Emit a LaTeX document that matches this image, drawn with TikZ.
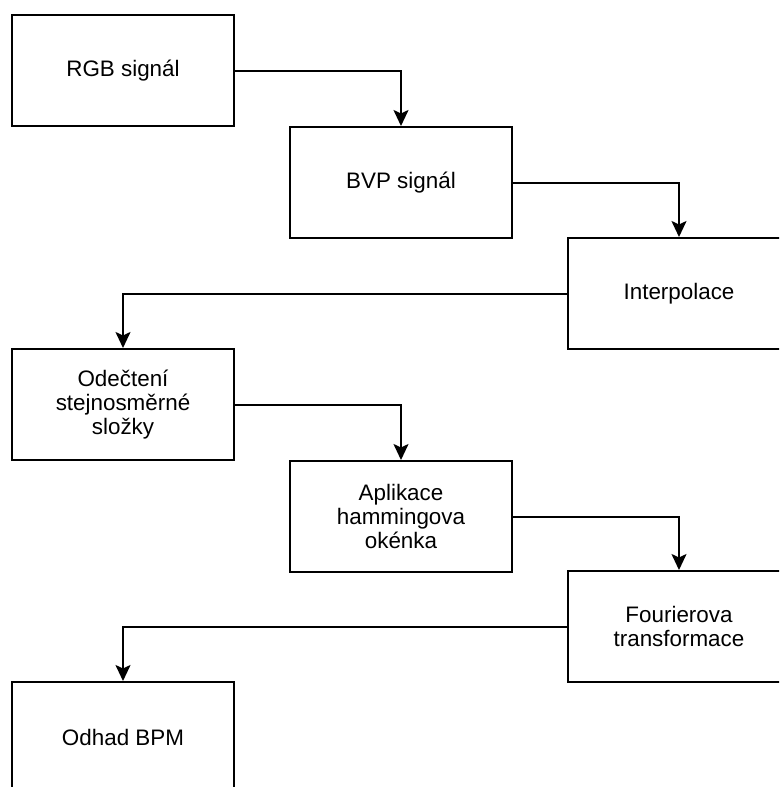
\documentclass[tikz,border=0pt]{standalone}
\usepackage{fontspec}
\setmainfont{Liberation Sans}
\usetikzlibrary{arrows.meta}

\begin{document}
\begin{tikzpicture}[x=1pt,y=-1pt,
		blok/.style={draw,line width=2pt,minimum width=222pt,minimum height=111pt,align=center,
			font=\fontsize{22.4}{24}\selectfont},
		sipka/.style={draw,line width=2pt,-{Stealth[length=16pt,width=15pt,inset=3.5pt]}}]
			\useasboundingbox (0,0) rectangle (779,787);
			\clip (0,0) rectangle (779,787);
			\node[blok] (rgb) at (123,70.5) {RGB signál};
			\node[blok] (bvp) at (401,182.5) {BVP signál};
			\node[blok] (interp) at (679,293.5) {Interpolace};
			\node[blok] (dc) at (123,404.5) {Odečtení\\stejnosměrné\\složky};
			\node[blok] (hamming) at (401,516.5) {Aplikace\\hammingova\\okénka};
			\node[blok] (fft) at (679,626.5) {Fourierova\\transformace};
			\node[blok] (bpm) at (123,737.5) {Odhad BPM};
			\draw[sipka] (rgb.east) -| (bvp.north);
			\draw[sipka] (bvp.east) -| (interp.north);
			\draw[sipka] (interp.west) -| (dc.north);
			\draw[sipka] (dc.east) -| (hamming.north);
			\draw[sipka] (hamming.east) -| (fft.north);
			\draw[sipka] (fft.west) -| (bpm.north);
		\end{tikzpicture}
\end{document}
